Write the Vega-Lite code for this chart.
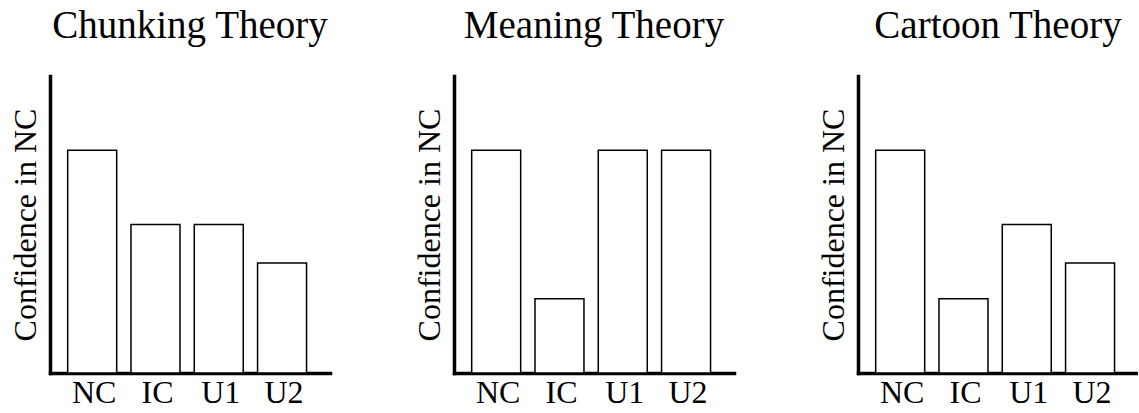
{
  "$schema": "https://vega.github.io/schema/vega-lite/v6.json",
  "autosize": {"type": "pad"},
  "padding": {"left": 8, "top": 7, "right": 0, "bottom": 0},
  "background": "white",
  "data": {
    "values": [
      {"theory": "Chunking Theory", "condition": "NC", "confidence": 75},
      {"theory": "Chunking Theory", "condition": "IC", "confidence": 50},
      {"theory": "Chunking Theory", "condition": "U1", "confidence": 50},
      {"theory": "Chunking Theory", "condition": "U2", "confidence": 37},
      {"theory": "Meaning Theory", "condition": "NC", "confidence": 75},
      {"theory": "Meaning Theory", "condition": "IC", "confidence": 25},
      {"theory": "Meaning Theory", "condition": "U1", "confidence": 75},
      {"theory": "Meaning Theory", "condition": "U2", "confidence": 75},
      {"theory": "Cartoon Theory", "condition": "NC", "confidence": 75},
      {"theory": "Cartoon Theory", "condition": "IC", "confidence": 25},
      {"theory": "Cartoon Theory", "condition": "U1", "confidence": 50},
      {"theory": "Cartoon Theory", "condition": "U2", "confidence": 37}
    ]
  },
  "facet": {
    "column": {
      "field": "theory",
      "type": "nominal",
      "sort": ["Chunking Theory", "Meaning Theory", "Cartoon Theory"],
      "title": null,
      "header": {
        "labelFont": "Liberation Serif",
        "labelFontSize": 39,
        "labelColor": "black",
        "labelPadding": 30
      }
    }
  },
  "spacing": 82,
  "resolve": {"axis": {"y": "independent", "x": "independent"}},
  "spec": {
    "width": 280,
    "height": 297,
    "mark": {"type": "bar", "fill": "white", "stroke": "black", "strokeWidth": 1.5},
    "encoding": {
      "x": {
        "field": "condition",
        "type": "nominal",
        "sort": ["NC", "IC", "U1", "U2"],
        "scale": {"paddingInner": 0.226, "paddingOuter": 0.325, "align": 0.43},
        "axis": {
          "title": null,
          "labelAngle": 0,
          "ticks": false,
          "labelPadding": 4,
          "labelOffset": 2,
          "labelFontSize": 32,
          "labelFont": "Liberation Serif",
          "labelColor": "black",
          "domainColor": "black",
          "domainWidth": 3.5,
          "domainCap": "square"
        }
      },
      "y": {
        "field": "confidence",
        "type": "quantitative",
        "scale": {"domain": [0, 100], "nice": false},
        "axis": {
          "title": "Confidence in NC",
          "titleFont": "Liberation Serif",
          "titleFontSize": 32,
          "titleFontWeight": "normal",
          "titleColor": "black",
          "titlePadding": 8,
          "labels": false,
          "ticks": false,
          "grid": false,
          "domainColor": "black",
          "domainWidth": 3.5,
          "domainCap": "square"
        }
      }
    }
  },
  "config": {
    "view": {"stroke": null}
  }
}
